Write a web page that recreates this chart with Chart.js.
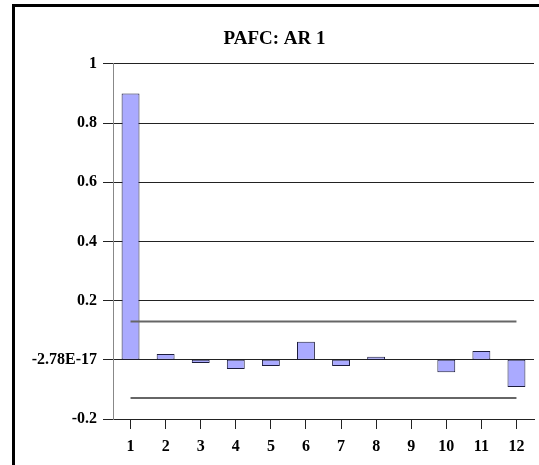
<!DOCTYPE html>
<html>
<head>
<meta charset="utf-8">
<title>PAFC: AR 1</title>
<script src="https://cdn.jsdelivr.net/npm/chart.js@4.4.0/dist/chart.umd.min.js"></script>
<style>
    html, body { margin: 0; padding: 0; background: #fff; overflow: hidden; }
    #frame {
        position: absolute; left: 12px; top: 4px;
        width: 600px; height: 600px;
        border-left: 3px solid #000; border-top: 3px solid #000;
    }
    #wrap { position: absolute; left: 0; top: 0; width: 539px; height: 465px; }
</style>
</head>
<body>
<div id="frame"></div>
<div id="wrap"><canvas id="myChart" width="539" height="465"></canvas></div>
<script>
// lags on the x axis
const lags = ["1", "2", "3", "4", "5", "6", "7", "8", "9", "10", "11", "12"]
// partial autocorrelation values
const pacf = [0.90, 0.02, -0.011, -0.031, -0.021, 0.061, -0.021, 0.01, -0.001, -0.042, 0.030, -0.092]
// confidence band
const upperBound = [0.129, 0.129, 0.129, 0.129, 0.129, 0.129, 0.129, 0.129, 0.129, 0.129, 0.129, 0.129]
const lowerBound = [-0.129, -0.129, -0.129, -0.129, -0.129, -0.129, -0.129, -0.129, -0.129, -0.129, -0.129, -0.129]
// y tick labels, bottom to top
const yTickLabels = ["-0.2", "-2.78E-17", "0.2", "0.4", "0.6", "0.8", "1"]

const tickFont = { family: "'Liberation Serif', 'Times New Roman', serif", size: 16, weight: "bold" }

const ctx = document.getElementById("myChart")
const myChart = new Chart(ctx, {
    data: {
        labels: lags,
        datasets: [{
            type: "bar",
            data: pacf,
            backgroundColor: "rgb(170, 170, 255)",
            borderColor: "#1c1c3c",
            borderWidth: 1,
            borderSkipped: false,
            categoryPercentage: 1,
            barPercentage: 0.51,
            order: 2
        }, {
            type: "line",
            data: upperBound,
            borderColor: "#666",
            borderWidth: 2,
            pointRadius: 0,
            fill: false,
            order: 1
        }, {
            type: "line",
            data: lowerBound,
            borderColor: "#666",
            borderWidth: 2,
            pointRadius: 0,
            fill: false,
            order: 1
        }]
    },
    options: {
        responsive: false,
        animation: false,
        layout: { padding: { left: 15, right: 5, top: 0, bottom: 0 } },
        plugins: {
            legend: { display: false },
            tooltip: { enabled: false },
            title: {
                display: true,
                text: "PAFC: AR 1",
                color: "#000",
                font: { family: "'Liberation Serif', 'Times New Roman', serif", size: 19, weight: "bold" },
                padding: { top: 28, bottom: 13 }
            }
        },
        scales: {
            x: {
                type: "category",
                offset: true,
                grid: { drawOnChartArea: false, offset: false, tickLength: 10, color: "#222" },
                border: { color: "#222" },
                ticks: { color: "#000", font: tickFont, padding: 8, maxRotation: 0 },
                afterFit: (scale) => { scale.height = 46 }
            },
            y: {
                min: -0.2,
                max: 1,
                ticks: {
                    stepSize: 0.2,
                    color: "#000",
                    font: tickFont,
                    padding: 6,
                    callback: (value, index) => yTickLabels[index]
                },
                grid: { color: "#222", tickLength: 10 },
                border: { color: "#888" },
                afterFit: (scale) => { scale.width = 98 }
            }
        }
    }
})
</script>
</body>
</html>
